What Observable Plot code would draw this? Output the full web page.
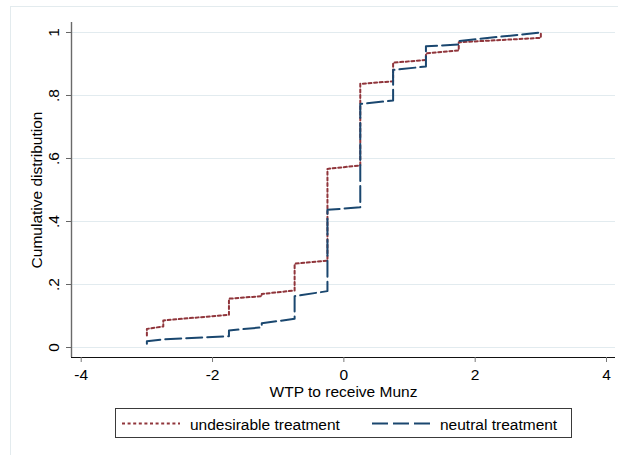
<!DOCTYPE html>
<html>
<head>
<meta charset="utf-8">
<script src="https://cdn.jsdelivr.net/npm/d3@7"></script>
<script src="https://cdn.jsdelivr.net/npm/@observablehq/plot@0.6"></script>
<style>
  html, body { margin: 0; padding: 0; background: #fff; overflow: hidden; }
  #wrap { position: relative; width: 618px; height: 455px; font-family: "Liberation Sans", Arial, sans-serif; }
  #outer { position: absolute; left: 9.5px; top: 5.5px; width: 700px; height: 600px; border: 1px solid #e3ebee; box-sizing: border-box; }
  #chart { position: absolute; left: 0; top: 0; }
  #legend { position: absolute; left: 115px; top: 408px; width: 457px; height: 30px; box-sizing: border-box; border: 1px solid #3a3a3a; background: #fff; }
  #legend svg { position: absolute; left: 0; top: 0; }
</style>
</head>
<body>
<div id="wrap">
  <div id="outer"></div>
  <div id="chart"></div>
  <div id="legend"></div>
</div>
<script>
// ---- data ----
const seriesNames = ["undesirable treatment", "neutral treatment"];

const undesirableX = [-3, -3, -2.75, -2.75, -1.75, -1.75, -1.25, -1.25, -0.75, -0.75, -0.25, -0.25, 0.25, 0.25, 0.75, 0.75, 1.25, 1.25, 1.75, 1.75, 3, 3];
const undesirableY = [0.038, 0.059, 0.067, 0.086, 0.104, 0.155, 0.163, 0.170, 0.181, 0.266, 0.276, 0.567, 0.578, 0.837, 0.845, 0.904, 0.913, 0.934, 0.943, 0.969, 0.983, 1.0];

const neutralX = [-3, -3, -2.75, -1.75, -1.75, -1.25, -1.25, -0.75, -0.75, -0.25, -0.25, 0.25, 0.25, 0.75, 0.75, 1.25, 1.25, 1.75, 1.75, 3];
const neutralY = [0.012, 0.020, 0.026, 0.036, 0.054, 0.064, 0.077, 0.091, 0.163, 0.179, 0.437, 0.445, 0.773, 0.784, 0.881, 0.892, 0.956, 0.962, 0.973, 1.0];

const xTicks = [-4, -2, 0, 2, 4];
const xTickLabels = ["-4", "-2", "0", "2", "4"];
const yTicks = [0, 0.2, 0.4, 0.6, 0.8, 1];
const yTickLabels = ["0", ".2", ".4", ".6", ".8", "1"];

const xTitle = "WTP to receive Munz";
const yTitle = "Cumulative distribution";

// ---- build ----
const undesirable = undesirableX.map((x, i) => ({x, y: undesirableY[i]}));
const neutral = neutralX.map((x, i) => ({x, y: neutralY[i]}));

const colors = ["#90353b", "#1a476f"];
const dashes = ["3,2.6", "16,5"];
const font = "Liberation Sans, Arial, sans-serif";
const fs = 15.5;

const xDomain = [-4.148, 4.137];
const yDomain = [-0.0317, 1.0317];

const chart = Plot.plot({
  width: 618,
  height: 400,
  marginLeft: 71,
  marginRight: 3,
  marginTop: 22,
  marginBottom: 43,
  style: {fontFamily: font, fontSize: fs + "px", background: "transparent", color: "#000"},
  x: {domain: xDomain, label: null},
  y: {domain: yDomain, label: null},
  marks: [
    Plot.gridY(yTicks, {stroke: "#e2ebef", strokeOpacity: 1, strokeWidth: 1.2}),
    Plot.ruleX([xDomain[0]], {stroke: "#6a6a6a", strokeWidth: 1.4}),
    Plot.ruleY([yDomain[0]], {stroke: "#111", strokeWidth: 1.2}),
    Plot.axisX(xTicks, {tickSize: 5, tickPadding: 6, stroke: "#777", fill: "#000", fontSize: fs,
      tickFormat: d => xTickLabels[xTicks.indexOf(d)], label: null}),
    Plot.axisY(yTicks, {tickSize: 5, tickPadding: 8, tickRotate: -90, stroke: "#666", fill: "#000", fontSize: fs,
      tickFormat: d => yTickLabels[yTicks.indexOf(d)], label: null}),
    Plot.line(undesirable, {x: "x", y: "y", stroke: colors[0], strokeWidth: 2, strokeDasharray: dashes[0]}),
    Plot.line(neutral, {x: "x", y: "y", stroke: colors[1], strokeWidth: 2, strokeDasharray: dashes[1]}),
    Plot.text([xTitle], {frameAnchor: "bottom", text: d => d, dy: 39, lineAnchor: "bottom", textAnchor: "middle", fontSize: fs, fill: "#000"}),
    Plot.text([yTitle], {frameAnchor: "left", text: d => d, rotate: -90, dx: -29.5, lineAnchor: "bottom", textAnchor: "middle", fontSize: fs, fill: "#000"})
  ]
});
document.getElementById("chart").appendChild(chart);

// ---- legend ----
const leg = d3.select("#legend").append("svg").attr("width", 455).attr("height", 28)
  .style("font-family", font).style("font-size", fs + "px");
const items = [{x0: 6, x1: 64, tx: 74}, {x0: 256, x1: 314, tx: 324}];
seriesNames.forEach((name, i) => {
  const it = items[i];
  leg.append("line").attr("x1", it.x0).attr("x2", it.x1).attr("y1", 14.5).attr("y2", 14.5)
    .attr("stroke", colors[i]).attr("stroke-width", 2).attr("stroke-dasharray", dashes[i]);
  leg.append("text").attr("x", it.tx).attr("y", 20.5).attr("fill", "#000").text(name);
});
</script>
</body>
</html>
